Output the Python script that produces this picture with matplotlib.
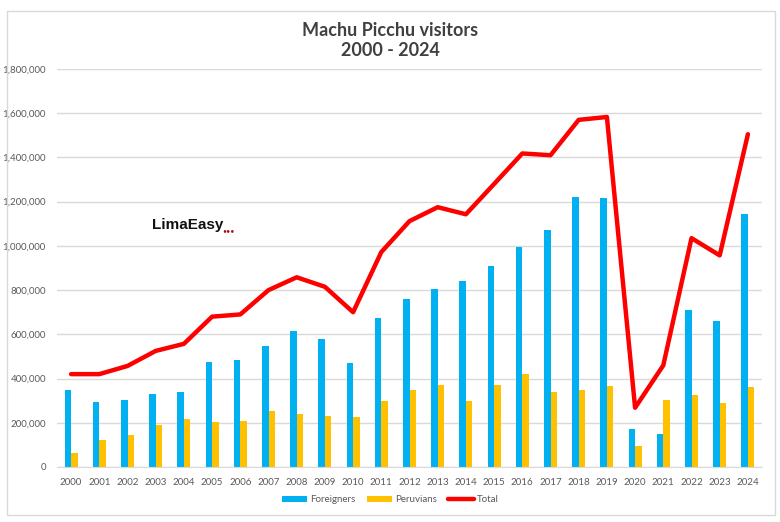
import matplotlib
matplotlib.use("Agg")
import matplotlib.pyplot as plt
import numpy as np
from matplotlib.patches import Rectangle
from matplotlib.ticker import FuncFormatter

# visitors per year
years = [str(y) for y in range(2000, 2025)]
foreigners = [350000, 292000, 305000, 332000, 340000, 475000, 482000, 548000, 617000, 580000,
              470000, 672000, 762000, 805000, 840000, 910000, 995000, 1070000, 1222000, 1215000,
              170000, 150000, 710000, 660000, 1145000]
peruvians = [65000, 122000, 145000, 190000, 218000, 203000, 210000, 252000, 240000, 232000,
             226000, 298000, 348000, 370000, 298000, 370000, 420000, 340000, 350000, 368000,
             95000, 305000, 325000, 290000, 362000]
total = [420000, 420000, 457000, 525000, 557000, 680000, 690000, 800000, 858000, 815000,
         700000, 972000, 1112000, 1175000, 1143000, 1280000, 1418000, 1410000, 1570000, 1583000,
         268000, 460000, 1035000, 957000, 1505000]

plt.rcParams["font.family"] = ["Lato", "DejaVu Sans"]

fig = plt.figure(figsize=(7.8, 5.22), dpi=100)
ax = fig.add_axes([57 / 780, 1 - 467 / 522, (762 - 57) / 780, (467 - 69) / 522])

x = np.arange(len(years))
w = 0.23
b1 = ax.bar(x - w / 2, foreigners, width=w, color="#00B0F0", label="Foreigners", zorder=2)
b2 = ax.bar(x + w / 2, peruvians, width=w, color="#FFC000", label="Peruvians", zorder=2)
l1, = ax.plot(x, total, color="#FF0000", linewidth=3.2, label="Total", zorder=3,
              solid_joinstyle="round", solid_capstyle="round")

ax.set_xlim(-0.5, len(years) - 0.5)
ax.set_ylim(0, 1800000)
ax.set_yticks(np.arange(0, 1800001, 200000))
ax.yaxis.set_major_formatter(FuncFormatter(lambda v, p: f"{int(v):,}"))
ax.set_xticks(x)
ax.set_xticklabels(years)
ax.tick_params(axis="both", length=0, labelsize=7, colors="#595959")
ax.tick_params(axis="x", pad=8)
ax.tick_params(axis="y", pad=8)
ax.grid(axis="y", color="#d9d9d9", linewidth=1, zorder=0)
for s in ["top", "right", "left"]:
    ax.spines[s].set_visible(False)
ax.spines["bottom"].set_color("#d9d9d9")

fig.text(0.5, 1 - 30 / 522, "Machu Picchu visitors", ha="center", va="center",
         fontsize=13, fontweight="bold", color="#404040")
fig.text(0.5, 1 - 50 / 522, "2000 - 2024", ha="center", va="center",
         fontsize=13, fontweight="bold", color="#404040")

# logo as text
fig.text(152 / 780, 1 - 225 / 522, "LimaEasy", ha="left", va="center",
         fontsize=11, fontweight="bold", color="#111111",
         family=["Liberation Sans", "DejaVu Sans"])
fig.text(222 / 780, 1 - 231 / 522, "\u2022\u2022\u2022", ha="left", va="center",
         fontsize=5, color="#a01010")

leg = fig.legend([b1, b2, l1], ["Foreigners", "Peruvians", "Total"], loc="center",
                 bbox_to_anchor=(0.5, 1 - 500 / 522), ncol=3, frameon=False,
                 fontsize=7, handlelength=2.6, handleheight=0.5, columnspacing=1.2,
                 handletextpad=0.3)
for t in leg.get_texts():
    t.set_color("#595959")

fig.add_artist(Rectangle((7 / 780, 1 - 515 / 522), (775 - 7) / 780, (515 - 11) / 522,
                         transform=fig.transFigure, fill=False, edgecolor="#d9d9d9", linewidth=1))

fig.savefig("out.png", dpi=100)
